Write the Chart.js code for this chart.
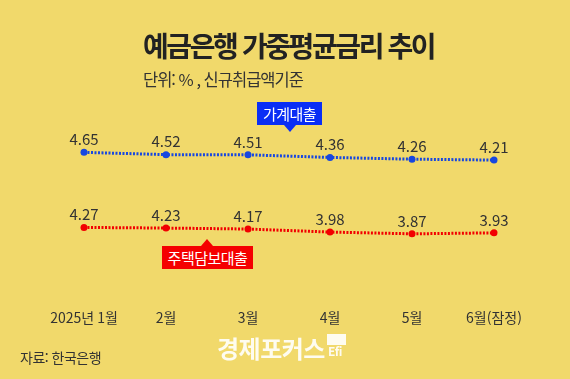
<!DOCTYPE html>
<html lang="ko">
<head>
<meta charset="UTF-8">
<title>예금은행 가중평균금리 추이</title>
<script src="https://cdn.jsdelivr.net/npm/chart.js"></script>
<style>
  html, body { margin: 0; padding: 0; }
  body { width: 570px; height: 379px; background: #f1d96b; position: relative; overflow: hidden;
         font-family: "Noto Sans CJK KR", "Noto Sans", sans-serif; color: #2b2b2b; }
  #chartWrap { position: absolute; left: 0; top: 0; width: 570px; height: 379px; }
  .title { position: absolute; left: 143px; top: 29px; font-size: 28px; font-weight: 700; letter-spacing: -2.4px; color: #222; white-space: nowrap; line-height: 1.2; }
  .sub { position: absolute; left: 143px; top: 70px; font-size: 16.5px; letter-spacing: -1px; color: #333; white-space: nowrap; line-height: 1.2; }
  .tag { position: absolute; color: #fff; font-size: 15px; letter-spacing: -0.5px; text-align: center; line-height: 23px; height: 23px; }
  .tag.blue { background: #0a2ef5; left: 257px; top: 102px; width: 65px; }
  .tag.red { background: #f50000; left: 162px; top: 246px; width: 91px; }
  .tag.blue:after { content: ""; position: absolute; left: 27px; top: 23px; border-left: 6px solid transparent; border-right: 6px solid transparent; border-top: 7px solid #0a2ef5; }
  .tag.red:before { content: ""; position: absolute; left: 39px; top: -7px; border-left: 6px solid transparent; border-right: 6px solid transparent; border-bottom: 7px solid #f50000; }
  .src { position: absolute; left: 20px; top: 347px; font-size: 14px; color: #333; letter-spacing: -0.5px; white-space: nowrap; }
  .logo { position: absolute; left: 217px; top: 330px; font-size: 24px; font-weight: 700; color: #fff; opacity: 0.9; letter-spacing: -0.5px; white-space: nowrap; }
  .logo .ef { display: inline-block; position: relative; width: 19px; height: 28px; vertical-align: top; margin-left: 2px; }
  .logo .ef b { position: absolute; left: 0; top: 4px; width: 19px; height: 11px; background: #fff; }
  .logo .ef i { position: absolute; left: 1px; top: 12px; font-size: 12px; font-style: normal; font-weight: 700; }
</style>
</head>
<body>
<div id="chartWrap"><canvas id="rateChart" width="570" height="379"></canvas></div>
<div class="title">예금은행 가중평균금리 추이</div>
<div class="sub">단위: % , 신규취급액기준</div>
<div class="tag blue">가계대출</div>
<div class="tag red">주택담보대출</div>
<div class="src">자료: 한국은행</div>
<div class="logo">경제포커스<span class="ef"><b></b><i>Efi</i></span></div>
<script>
  // 월별 라벨
  const months = ['2025년 1월', '2월', '3월', '4월', '5월', '6월(잠정)'];
  // 가계대출 금리 (%)
  const householdRates = [4.65, 4.52, 4.51, 4.36, 4.26, 4.21];
  // 주택담보대출 금리 (%)
  const mortgageRates = [4.27, 4.23, 4.17, 3.98, 3.87, 3.93];

  const BLUE = '#1747e0';
  const RED = '#f20000';

  // 점 위에 값 표시
  const valueLabels = {
    id: 'valueLabels',
    afterDatasetsDraw(chart) {
      const ctx = chart.ctx;
      ctx.save();
      ctx.font = '15px "Noto Sans CJK KR", "Noto Sans", sans-serif';
      ctx.fillStyle = '#333';
      ctx.textAlign = 'center';
      ctx.textBaseline = 'middle';
      chart.data.datasets.forEach(function (ds, i) {
        chart.getDatasetMeta(i).data.forEach(function (pt, j) {
          ctx.fillText(ds.data[j].toFixed(2), pt.x, pt.y - 13);
        });
      });
      ctx.restore();
    }
  };

  new Chart(document.getElementById('rateChart'), {
    type: 'line',
    data: {
      labels: months,
      datasets: [{
        label: '가계대출',
        data: householdRates,
        yAxisID: 'y',
        borderColor: BLUE,
        backgroundColor: BLUE,
        borderWidth: 3,
        borderDash: [2, 1.5],
        pointRadius: 3.5,
        pointBorderWidth: 0,
        tension: 0
      }, {
        label: '주택담보대출',
        data: mortgageRates,
        yAxisID: 'y1',
        borderColor: RED,
        backgroundColor: RED,
        borderWidth: 3,
        borderDash: [2, 1.5],
        pointRadius: 3.5,
        pointBorderWidth: 0,
        tension: 0
      }]
    },
    options: {
      responsive: false,
      animation: false,
      layout: { padding: { left: 84, right: 76, top: 100, bottom: 47 } },
      plugins: { legend: { display: false }, tooltip: { enabled: false } },
      scales: {
        x: {
          offset: false,
          grid: { display: false },
          border: { display: false },
          ticks: {
            color: '#333',
            padding: 6,
            maxRotation: 0,
            autoSkip: false,
            font: { family: '"Noto Sans CJK KR", sans-serif', size: 14 }
          }
        },
        y: { display: false, min: -3.504, max: 7.639 },
        y1: { display: false, min: 0.038, max: 12.226 }
      }
    },
    plugins: [valueLabels]
  });
</script>
</body>
</html>
